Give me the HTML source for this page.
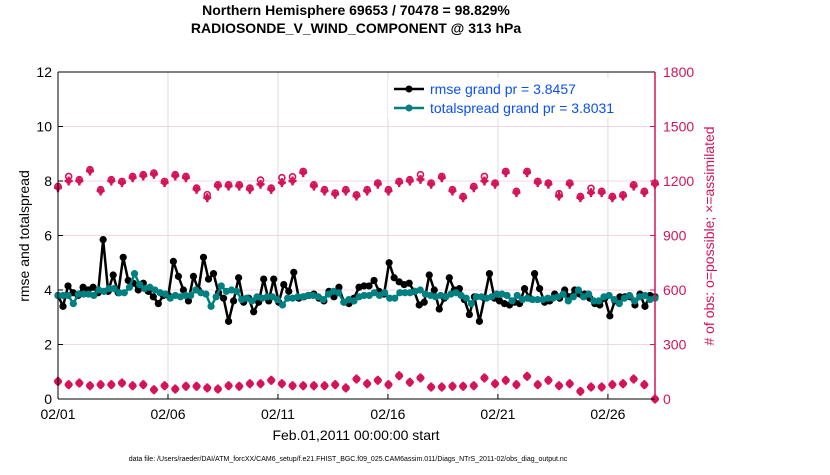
<!DOCTYPE html>
<html><head><meta charset="utf-8"><style>
body{margin:0;background:#fff;width:830px;height:470px;overflow:hidden;font-family:"Liberation Sans",sans-serif}
svg text{font-family:"Liberation Sans",sans-serif}
</style></head><body>
<svg id="chart" width="830" height="470" xmlns="http://www.w3.org/2000/svg">
<text x="356" y="15" font-size="14" font-weight="bold" text-anchor="middle">Northern Hemisphere 69653 / 70478 = 98.829%</text>
<text x="356" y="33" font-size="14" font-weight="bold" text-anchor="middle">RADIOSONDE_V_WIND_COMPONENT @ 313 hPa</text>
<g id="grid"></g>
<g id="marks"></g>
<g id="axes"></g>
<text transform="translate(29,236) rotate(-90)" font-size="14" text-anchor="middle">rmse and totalspread</text>
<text transform="translate(714,236) rotate(-90)" font-size="14" text-anchor="middle" fill="#d4145a"># of obs: o=possible; ×=assimilated</text>
<text x="356" y="440" font-size="14" text-anchor="middle">Feb.01,2011 00:00:00 start</text>
<text x="348" y="461" font-size="7" text-anchor="middle">data file: /Users/raeder/DAI/ATM_forcXX/CAM6_setup/f.e21.FHIST_BGC.f09_025.CAM6assim.011/Diags_NTrS_2011-02/obs_diag_output.nc</text>
<g>
<rect x="388" y="78" width="260" height="40" fill="#fff"/>
<line x1="394" y1="89" x2="424" y2="89" stroke="#000" stroke-width="2.5"/><circle cx="409" cy="89" r="3.5" fill="#000"/>
<text x="430" y="94" font-size="14" fill="#0a4ff5">rmse grand pr = 3.8457</text>
<line x1="394" y1="108" x2="424" y2="108" stroke="#008080" stroke-width="2.5"/><circle cx="409" cy="108" r="3.5" fill="#008080"/>
<text x="430" y="113" font-size="14" fill="#0a4ff5">totalspread grand pr = 3.8031</text>
</g>
</svg>
<script>
const rmse=[3.8,3.4,4.15,3.9,3.8,4.1,4.0,4.1,3.9,5.85,3.95,4.55,3.9,5.2,4.35,4.25,4.0,4.25,3.95,3.75,3.5,3.8,3.8,5.05,4.5,4.0,3.6,4.5,4.0,5.2,4.4,4.6,3.9,3.7,2.85,3.6,4.45,3.55,3.7,3.2,3.55,4.4,3.6,4.4,3.55,4.2,3.95,4.65,3.7,3.75,3.8,3.85,3.7,3.6,3.95,3.75,4.1,3.55,3.5,3.7,4.1,4.15,4.15,4.35,3.95,3.85,5.0,4.45,4.3,4.2,4.25,3.95,3.45,3.55,4.55,4.0,3.3,3.7,4.45,4.0,4.05,3.65,3.1,3.75,2.85,3.7,4.6,3.7,3.6,3.5,3.45,3.55,3.5,4.05,3.7,4.6,4.05,3.55,3.6,3.85,3.7,4.0,3.75,4.0,3.85,3.85,3.7,3.5,3.45,3.7,3.05,3.6,3.75,3.75,3.75,3.45,3.85,3.4,3.8,3.75];
const spread=[3.8,3.8,3.8,3.5,3.85,3.85,3.85,3.8,4.0,3.95,4.05,4.05,3.9,3.9,4.1,4.6,4.2,4.05,4.1,4.0,3.9,3.85,3.7,3.8,3.75,3.8,3.8,4.0,3.9,3.85,3.4,3.75,4.15,3.95,4.0,3.95,3.65,3.7,3.6,3.75,3.7,3.75,3.75,3.65,3.45,3.7,3.7,3.75,3.75,3.8,3.8,3.75,3.65,3.85,3.95,3.9,3.55,3.65,3.6,3.75,3.8,3.8,3.9,3.8,3.9,3.7,3.7,3.9,3.9,3.9,3.95,4.0,3.85,3.8,3.75,3.8,3.75,3.85,3.9,3.8,3.7,3.5,3.75,3.75,3.7,3.75,3.85,3.85,3.8,3.6,3.8,3.65,3.7,3.65,3.65,3.65,3.7,3.7,3.75,3.85,3.6,3.75,4.0,3.75,3.85,3.6,3.6,3.75,3.8,3.65,3.5,3.7,3.8,3.6,3.75,3.8,3.65,3.7];
const assimTop=[1163,1200,1200,1255,1145,1200,1191,1218,1228,1237,1191,1228,1218,1154,1108,1172,1172,1172,1154,1182,1154,1191,1200,1246,1172,1145,1127,1145,1117,1145,1182,1145,1191,1200,1209,1182,1218,1145,1108,1163,1200,1182,1246,1136,1246,1191,1182,1117,1182,1108,1136,1136,1108,1117,1172,1136,1182];
const possibleTop=[1170,1225,1207,1262,1152,1207,1198,1225,1235,1244,1198,1235,1225,1161,1125,1179,1179,1179,1161,1205,1161,1218,1223,1253,1179,1152,1134,1152,1124,1152,1189,1152,1198,1207,1235,1189,1225,1152,1115,1170,1225,1189,1253,1143,1253,1198,1189,1130,1189,1115,1160,1143,1115,1124,1179,1143,1189];
const bottom=[97,79,88,73,79,79,88,73,79,51,73,55,70,70,61,55,73,70,84,84,103,84,73,73,73,73,79,61,110,84,103,79,128,92,116,66,66,70,70,73,116,84,103,79,125,79,103,73,84,42,66,66,79,84,110,79,0];
const leftTicks=[0,2,4,6,8,10,12];
const rightTicks=[0,300,600,900,1200,1500,1800];
const dateTicks=[0,5,10,15,20,25];
const dateLabels=["02/01","02/06","02/11","02/16","02/21","02/26"];
const SPAN=27.14;
const L=58,R=655,T=72,B=399;
const xs=d=>L+d/SPAN*(R-L);
const yl=v=>B-v/12*(B-T);
const yr=v=>B-v/1800*(B-T);
const NS='http://www.w3.org/2000/svg';
function mk(p,tag,at){const e=document.createElementNS(NS,tag);for(const k in at)e.setAttribute(k,at[k]);p.appendChild(e);return e;}
const grid=document.getElementById('grid'),marks=document.getElementById('marks'),axes=document.getElementById('axes');
const PINK='#d4145a';
leftTicks.forEach(v=>{if(v>0&&v<12){const g=mk(grid,'line',{x1:L,x2:R,y1:yl(v),y2:yl(v),stroke:'#f7d5e3','stroke-width':1});

}
const t=mk(axes,'text',{x:L-6,y:yl(v)+5,'font-size':14,'text-anchor':'end'});t.textContent=v;


mk(axes,'line',{x1:L,x2:L+5,y1:yl(v),y2:yl(v),stroke:'#000'});});
rightTicks.forEach(v=>{const t=mk(axes,'text',{x:R+8,y:yr(v)+5,'font-size':14,fill:PINK});t.textContent=v;


mk(axes,'line',{x1:R-5,x2:R,y1:yr(v),y2:yr(v),stroke:PINK});});
dateTicks.forEach((d,i)=>{if(d>0){const g=mk(grid,'line',{x1:xs(d),x2:xs(d),y1:T,y2:B,stroke:'#dcdcdc'});

}
mk(axes,'line',{x1:xs(d),x2:xs(d),y1:B,y2:B-5,stroke:'#000'});
const t=mk(axes,'text',{x:xs(d),y:B+20,'font-size':14,'text-anchor':'middle'});t.textContent=dateLabels[i];

});
mk(axes,'line',{x1:L,x2:R,y1:T,y2:T,stroke:'#000'});
mk(axes,'line',{x1:L,x2:R,y1:B,y2:B,stroke:'#000'});
mk(axes,'line',{x1:L,x2:L,y1:T,y2:B,stroke:'#000'});
mk(axes,'line',{x1:R,x2:R,y1:T,y2:B,stroke:PINK,'stroke-width':1.5});
function star(x,y){const g=mk(marks,'g',{stroke:PINK,'stroke-width':2.4,fill:PINK});


mk(g,'line',{x1:x-4,x2:x+4,y1:y,y2:y});mk(g,'line',{x1:x,x2:x,y1:y-4.5,y2:y+4.5});mk(g,'circle',{cx:x,cy:y,r:3,stroke:'none'});}
function ring(x,y){const c=mk(marks,'circle',{cx:x,cy:y,r:3,fill:'none',stroke:PINK,'stroke-width':1.6});

}
const ot=i=>i*SPAN/(assimTop.length-1);
possibleTop.forEach((v,i)=>ring(xs(ot(i)),yr(v)));
assimTop.forEach((v,i)=>star(xs(ot(i)),yr(v)));
const bt=i=>i*SPAN/(bottom.length-1);
bottom.forEach((v,i)=>{ring(xs(bt(i)),yr(v));star(xs(bt(i)),yr(v));});
function series(arr,color,name){const t=i=>i*SPAN/(arr.length-1);
const p=mk(marks,'polyline',{points:arr.map((v,i)=>xs(t(i))+','+yl(v)).join(' '),fill:'none',stroke:color,'stroke-width':2.5,'stroke-linejoin':'round'});


arr.forEach((v,i)=>{const c=mk(marks,'circle',{cx:xs(t(i)),cy:yl(v),r:3.6,fill:color});

});}
series(rmse,'#000','rmse');
series(spread,'#008080','totalspread');
</script>
</body></html>
